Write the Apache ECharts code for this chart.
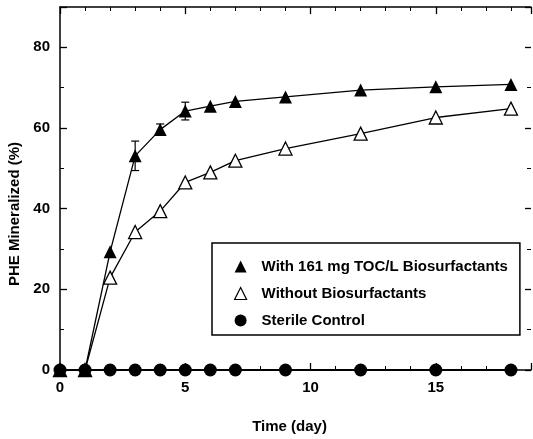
<!DOCTYPE html>
<html>
<head>
<meta charset="utf-8">
<script src="https://cdn.jsdelivr.net/npm/echarts@6/dist/echarts.min.js"></script>
<style>
  html, body { margin: 0; padding: 0; background: #fff; }
  #main { width: 533px; height: 439px; }
</style>
</head>
<body>
<div id="main"></div>
<script>
// time points (day)
var days = [0, 1, 2, 3, 4, 5, 6, 7, 9, 12, 15, 18];
// PHE mineralized (%)
var withBio = [0, 0, 29.3, 53.1, 59.6, 64.2, 65.4, 66.6, 67.7, 69.4, 70.2, 70.8];
var withoutBio = [0, 0, 22.9, 34.2, 39.4, 46.5, 49.0, 51.9, 54.9, 58.6, 62.6, 64.8];
var sterile = [0, 0, 0, 0, 0, 0, 0, 0, 0, 0, 0, 0];
// error bars on the biosurfactant series: day, mean, +/-
var errDays = [3, 4, 5];
var errMean = [53.1, 59.6, 64.2];
var errSize = [3.65, 1.4, 2.2];

var seriesNames = ['With 161 mg TOC/L Biosurfactants', 'Without Biosurfactants', 'Sterile Control'];
var yTitle = 'PHE Mineralized (%)';

function pairs(xs, ys) {
  return xs.map(function (x, i) { return [x, ys[i]]; });
}

var chart = echarts.init(document.getElementById('main'), null, { renderer: 'canvas' });

var font = 'Liberation Sans, Arial, sans-serif';
var tickStyle = { color: '#000', width: 1.3 };
var minorStyle = { color: '#000', width: 1 };

var option = {
  backgroundColor: '#fff',
  animation: false,
  textStyle: { fontFamily: font, color: '#000' },
  grid: { left: 60, right: 2, top: 7, bottom: 67 },
  legend: {
    orient: 'vertical',
    left: 212,
    top: 243,
    borderColor: '#000',
    borderWidth: 1.5,
    padding: [16, 12, 7, 22],
    itemGap: 12,
    itemWidth: 12,
    itemHeight: 12,
    textStyle: { fontFamily: font, fontSize: 15, fontWeight: 'bold', color: '#000', padding: [0, 0, 0, 10] },
    data: [
      { name: seriesNames[0], icon: 'triangle', itemStyle: { color: '#000', borderWidth: 0 } },
      { name: seriesNames[1], icon: 'triangle', itemStyle: { color: '#fff', borderColor: '#000', borderWidth: 1.2 } },
      { name: seriesNames[2], icon: 'circle', itemStyle: { color: '#000', borderWidth: 0 } }
    ]
  },
  graphic: [{
    type: 'text',
    x: 15,
    y: 214,
    rotation: Math.PI / 2,
    style: {
      text: yTitle,
      font: 'bold 15px ' + font,
      fill: '#000',
      align: 'center',
      verticalAlign: 'middle'
    }
  }],
  xAxis: [{
    type: 'value',
    min: 0,
    max: 18.8,
    interval: 5,
    name: 'Time (day)',
    nameLocation: 'middle',
    nameGap: 49,
    nameTextStyle: { fontFamily: font, fontSize: 15, fontWeight: 'bold', color: '#000', padding: [0, 12, 0, 0] },
    axisLine: { onZero: false, lineStyle: { color: '#000', width: 1.5 } },
    axisTick: { inside: true, length: 7, lineStyle: tickStyle },
    minorTick: { show: true, splitNumber: 5, length: 4, lineStyle: minorStyle },
    axisLabel: { fontFamily: font, fontSize: 15, fontWeight: 'bold', color: '#000', margin: 10, showMaxLabel: false },
    splitLine: { show: false }
  }, {
    type: 'value',
    position: 'top',
    min: 0,
    max: 18.8,
    interval: 5,
    axisLine: { show: true, onZero: false, lineStyle: { color: '#000', width: 1.5 } },
    axisTick: { inside: true, length: 7, lineStyle: tickStyle },
    minorTick: { show: true, splitNumber: 5, length: 4, lineStyle: minorStyle },
    axisLabel: { show: false },
    splitLine: { show: false }
  }],
  yAxis: [{
    type: 'value',
    min: 0,
    max: 90,
    interval: 20,
    axisLine: { show: true, onZero: false, lineStyle: { color: '#000', width: 1.5 } },
    axisTick: { inside: true, length: 7, lineStyle: tickStyle },
    minorTick: { show: true, splitNumber: 2, length: 4, lineStyle: minorStyle },
    axisLabel: { fontFamily: font, fontSize: 15, fontWeight: 'bold', color: '#000', margin: 10, showMaxLabel: false },
    splitLine: { show: false }
  }, {
    type: 'value',
    position: 'right',
    min: 0,
    max: 90,
    interval: 20,
    axisLine: { show: false, onZero: false },
    axisTick: { show: true, inside: true, length: 6, lineStyle: tickStyle },
    minorTick: { show: true, splitNumber: 2, length: 4, lineStyle: minorStyle },
    axisLabel: { show: false },
    splitLine: { show: false }
  }],
  series: [
    {
      name: seriesNames[2],
      type: 'line',
      data: pairs(days, sterile),
      symbol: 'circle',
      symbolSize: 13,
      lineStyle: { color: '#000', width: 2 },
      itemStyle: { color: '#000' },
      z: 3
    },
    {
      name: seriesNames[1],
      type: 'line',
      data: pairs(days, withoutBio),
      symbol: 'triangle',
      symbolSize: 13,
      lineStyle: { color: '#000', width: 1.3 },
      itemStyle: { color: '#fff', borderColor: '#000', borderWidth: 1.3 },
      z: 4
    },
    {
      name: seriesNames[0],
      type: 'line',
      data: pairs(days, withBio),
      symbol: 'triangle',
      symbolSize: 13,
      lineStyle: { color: '#000', width: 1.3 },
      itemStyle: { color: '#000' },
      z: 5
    },
    {
      name: 'err',
      type: 'custom',
      data: errDays.map(function (d, i) { return [d, errMean[i] - errSize[i], errMean[i] + errSize[i]]; }),
      renderItem: function (params, api) {
        var lo = api.coord([api.value(0), api.value(1)]);
        var hi = api.coord([api.value(0), api.value(2)]);
        var hw = 4;
        var st = { stroke: '#000', lineWidth: 1.2 };
        return {
          type: 'group',
          children: [
            { type: 'line', shape: { x1: lo[0], y1: lo[1], x2: hi[0], y2: hi[1] }, style: st },
            { type: 'line', shape: { x1: lo[0] - hw, y1: lo[1], x2: lo[0] + hw, y2: lo[1] }, style: st },
            { type: 'line', shape: { x1: hi[0] - hw, y1: hi[1], x2: hi[0] + hw, y2: hi[1] }, style: st }
          ]
        };
      },
      z: 6
    }
  ]
};

chart.setOption(option);
</script>
</body>
</html>
